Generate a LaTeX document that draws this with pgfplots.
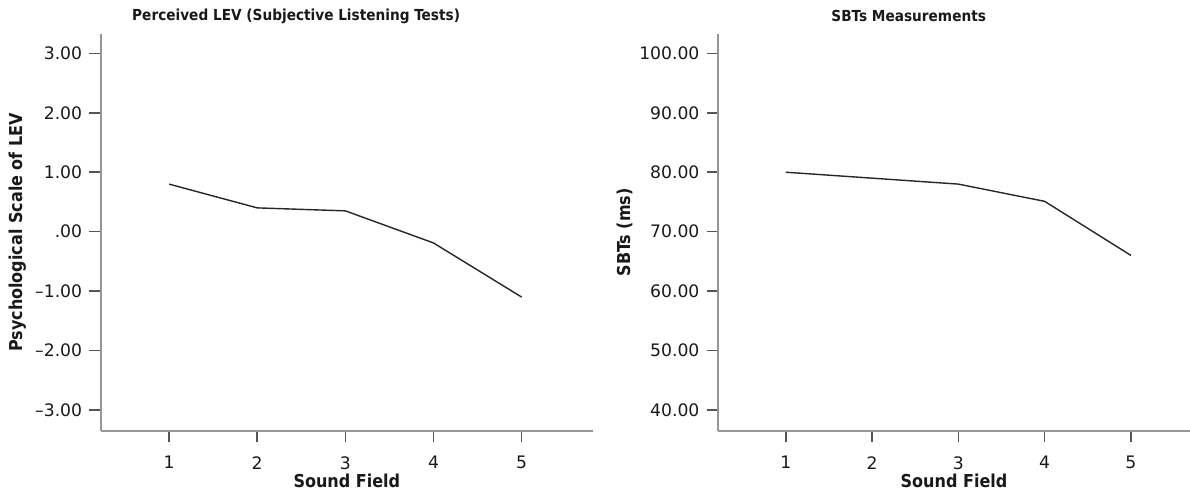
\documentclass[border=0pt]{standalone}
\usepackage{fontspec}
\setmainfont{DejaVu Sans}
\newfontfamily\condfont{DejaVu Sans Condensed}
\usepackage{pgfplots}
\usepackage{pgfplotstable}
\pgfplotsset{compat=1.18}

\definecolor{axisgray}{RGB}{150,150,150}
\definecolor{tickgray}{RGB}{85,85,85}

% Perceived LEV per sound field (psychological scale)
\pgfplotstableread{
field lev
1  0.80
2  0.40
3  0.35
4  -0.19
5  -1.10
}\levtable

% SBTs per sound field (ms)
\pgfplotstableread{
field sbt
1  80.0
2  79.0
3  78.0
4  75.1
5  66.0
}\sbttable

\pgfplotsset{
  spssaxis/.style={
    scale only axis,
    anchor=south west,
    height=198.35pt,
    axis x line*=bottom,
    axis y line*=left,
    axis line style={axisgray, line width=0.9pt, -},
    tick align=outside,
    major tick length=5.75pt,
    tick style={tickgray, line width=0.8pt},
    xtick={1,2,3,4,5},
    xticklabels={1,2,3,4,5},
    ticklabel style={font=\fontsize{8.6}{10}\selectfont, text=black!90},
    xticklabel style={yshift=-3.5pt},
    label style={font=\condfont\bfseries\fontsize{8.9}{10}\selectfont, text=black!90},
    title style={font=\condfont\bfseries\fontsize{7.6}{9}\selectfont, text=black!90, anchor=center, yshift=3pt},
    xlabel style={at={(axis description cs:0.5,0)}, anchor=center, yshift=-25pt},
    clip=false,
  },
  dataline/.style={black!85, line width=0.7pt, mark=none},
}

\begin{document}
\begin{tikzpicture}
\useasboundingbox (0,0) rectangle (595pt,246pt);

\begin{axis}[spssaxis,
  at={(50.35pt,30.65pt)},
  width=246.15pt,
  xmin=0.224, xmax=5.81,
  ymin=-3.348, ymax=3.325,
  ytick={-3,-2,-1,0,1,2,3},
  yticklabels={{\textendash3.00},{\textendash2.00},{\textendash1.00},{.00},{1.00},{2.00},{3.00}},
  title={Perceived LEV (Subjective Listening Tests)},
  title style={at={(axis description cs:0.397,1)}},
  xlabel={Sound Field},
  ylabel={Psychological Scale of LEV},
  ylabel style={at={(axis description cs:-0.168,0.5)}, anchor=center},
]
\addplot[dataline] table[x=field, y=lev] {\levtable};
\end{axis}

\begin{axis}[spssaxis,
  at={(359pt,30.65pt)},
  width=236pt,
  xmin=0.215, xmax=5.684,
  ymin=36.52, ymax=103.25,
  ytick={40,50,60,70,80,90,100},
  yticklabels={40.00,50.00,60.00,70.00,80.00,90.00,100.00},
  title={SBTs Measurements},
  title style={at={(axis description cs:0.404,1)}},
  xlabel={Sound Field},
  ylabel={SBTs (ms)},
  ylabel style={at={(axis description cs:-0.197,0.5)}, anchor=center},
]
\addplot[dataline] table[x=field, y=sbt] {\sbttable};
\end{axis}
\end{tikzpicture}
\end{document}
